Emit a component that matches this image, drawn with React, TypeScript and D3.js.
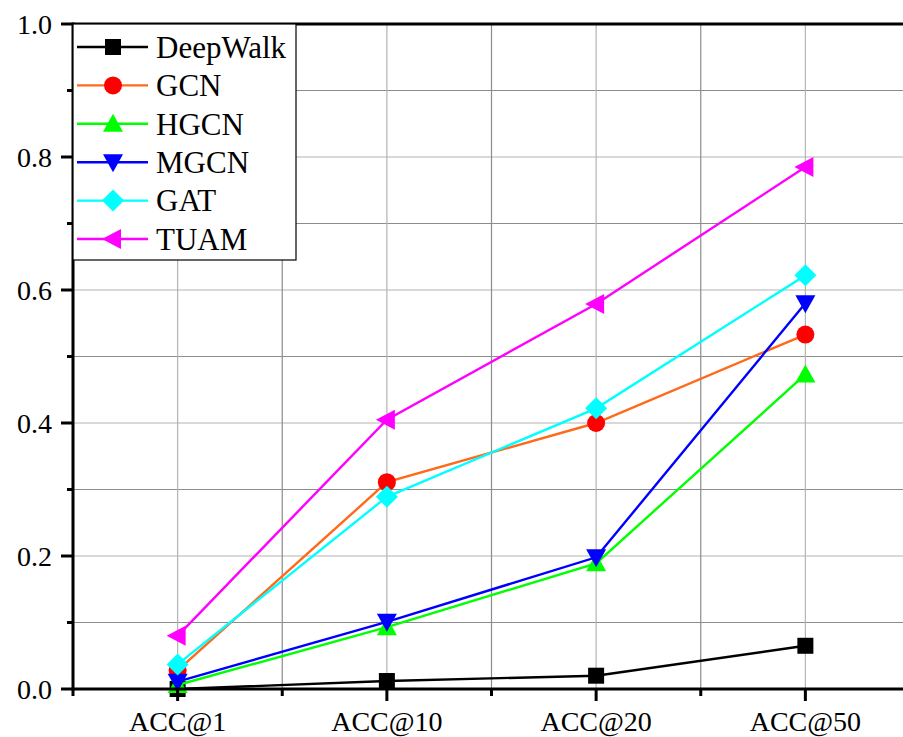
import React from 'react';
import * as d3 from 'd3';

const categories = ['ACC@1', 'ACC@10', 'ACC@20', 'ACC@50'];
const seriesNames = ['DeepWalk', 'GCN', 'HGCN', 'MGCN', 'GAT', 'TUAM'];
const deepWalk = [0.0, 0.012, 0.02, 0.065];
const gcn = [0.028, 0.311, 0.4, 0.533];
const hgcn = [0.006, 0.093, 0.189, 0.473];
const mgcn = [0.011, 0.101, 0.198, 0.58];
const gat = [0.037, 0.289, 0.422, 0.622];
const tuam = [0.08, 0.405, 0.579, 0.785];
const yTicks = [0, 0.2, 0.4, 0.6, 0.8, 1.0];

const colors = ['#000000', '#ff6a1a', '#00ff00', '#0000ff', '#00ffff', '#ff00ff'];
const markerColors = ['#000000', '#ff0000', '#00ff00', '#0000ff', '#00ffff', '#ff00ff'];
const values = [deepWalk, gcn, hgcn, mgcn, gat, tuam];

const W = 903;
const H = 737;
const left = 73;
const top = 24;
const bottom = 689;
const right = 910;
const font = '"Liberation Serif", "Times New Roman", serif';

function Marker({ kind, x, y, color }: { kind: number; x: number; y: number; color: string }) {
  const s = 8;
  if (kind === 0) return <rect x={x - s} y={y - s} width={2 * s} height={2 * s} fill={color} />;
  if (kind === 1) return <circle cx={x} cy={y} r={9} fill={color} />;
  if (kind === 2) return <path d={`M${x},${y - 10}L${x + 10},${y + 8}L${x - 10},${y + 8}Z`} fill={color} />;
  if (kind === 3) return <path d={`M${x},${y + 10}L${x + 10},${y - 8}L${x - 10},${y - 8}Z`} fill={color} />;
  if (kind === 4) return <path d={`M${x},${y - 11}L${x + 11},${y}L${x},${y + 11}L${x - 11},${y}Z`} fill={color} />;
  return <path d={`M${x - 11},${y}L${x + 8},${y - 10}L${x + 8},${y + 10}Z`} fill={color} />;
}

export default function App() {
  const x = d3.scaleLinear().domain([0.5, 4.5]).range([left, right]);
  const y = d3.scaleLinear().domain([0, 1]).range([bottom, top]);
  const minorY = d3.range(1, 10, 2).map((v) => v / 10);
  const minorX = [1.5, 2.5, 3.5];
  const line = d3
    .line<number>()
    .x((d, i) => x(i + 1))
    .y((d) => y(d));

  return (
    <svg width={W} height={H} style={{ position: 'absolute', left: 0, top: 0 }}>
      <rect width={W} height={H} fill="#fff" />
      {/* grid */}
      {yTicks.slice(1, -1).map((t) => (
        <line key={'gy' + t} x1={left} x2={right} y1={y(t)} y2={y(t)} stroke="#b4b4b4" strokeWidth={1.2} />
      ))}
      {minorY.map((t) => (
        <line key={'my' + t} x1={left} x2={right} y1={y(t)} y2={y(t)} stroke="#8c8c8c" strokeWidth={1.2} />
      ))}
      {categories.map((c, i) => (
        <line key={'gx' + c} x1={x(i + 1)} x2={x(i + 1)} y1={top} y2={bottom} stroke="#b4b4b4" strokeWidth={1.2} />
      ))}
      {minorX.map((t) => (
        <line key={'mx' + t} x1={x(t)} x2={x(t)} y1={top} y2={bottom} stroke="#8c8c8c" strokeWidth={1.2} />
      ))}

      {/* series */}
      {values.map((v, k) => (
        <g key={seriesNames[k]}>
          <path d={line(v) || ''} fill="none" stroke={colors[k]} strokeWidth={2.4} />
          {v.map((d, i) => (
            <Marker key={i} kind={k} x={x(i + 1)} y={y(d)} color={markerColors[k]} />
          ))}
        </g>
      ))}

      {/* axes */}
      <line x1={left} x2={right} y1={bottom} y2={bottom} stroke="#000" strokeWidth={3} />
      <line x1={left} x2={right} y1={top} y2={top} stroke="#000" strokeWidth={3} />
      <line x1={left} x2={left} y1={top - 1.5} y2={bottom + 1.5} stroke="#000" strokeWidth={3} />
      {yTicks.map((t) => (
        <g key={'yt' + t}>
          <line x1={left - 12} x2={left} y1={y(t)} y2={y(t)} stroke="#000" strokeWidth={3} />
          <text x={left - 21} y={y(t)} dy="0.35em" textAnchor="end" fontFamily={font} fontSize={28}>
            {t.toFixed(1)}
          </text>
        </g>
      ))}
      {minorY.map((t) => (
        <line key={'ymt' + t} x1={left - 6} x2={left} y1={y(t)} y2={y(t)} stroke="#000" strokeWidth={3} />
      ))}
      {categories.map((c, i) => (
        <g key={'xt' + c}>
          <line x1={x(i + 1)} x2={x(i + 1)} y1={bottom} y2={bottom + 12} stroke="#000" strokeWidth={3} />
          <text x={x(i + 1)} y={bottom + 42} textAnchor="middle" fontFamily={font} fontSize={28}>
            {c}
          </text>
        </g>
      ))}
      {[0.5, ...minorX].map((t) => (
        <line key={'xmt' + t} x1={x(t)} x2={x(t)} y1={bottom} y2={bottom + 7} stroke="#000" strokeWidth={3} />
      ))}

      {/* legend */}
      <rect x={left} y={top} width={223} height={236} fill="#fff" stroke="#000" strokeWidth={1.2} />
      {seriesNames.map((n, k) => {
        const ly = 47 + k * 38.4;
        return (
          <g key={'lg' + n}>
            <line x1={77} x2={148} y1={ly} y2={ly} stroke={colors[k]} strokeWidth={2.4} />
            <Marker kind={k} x={113} y={ly} color={markerColors[k]} />
            <text x={156} y={ly} dy="0.35em" fontFamily={font} fontSize={31}>
              {n}
            </text>
          </g>
        );
      })}
    </svg>
  );
}
